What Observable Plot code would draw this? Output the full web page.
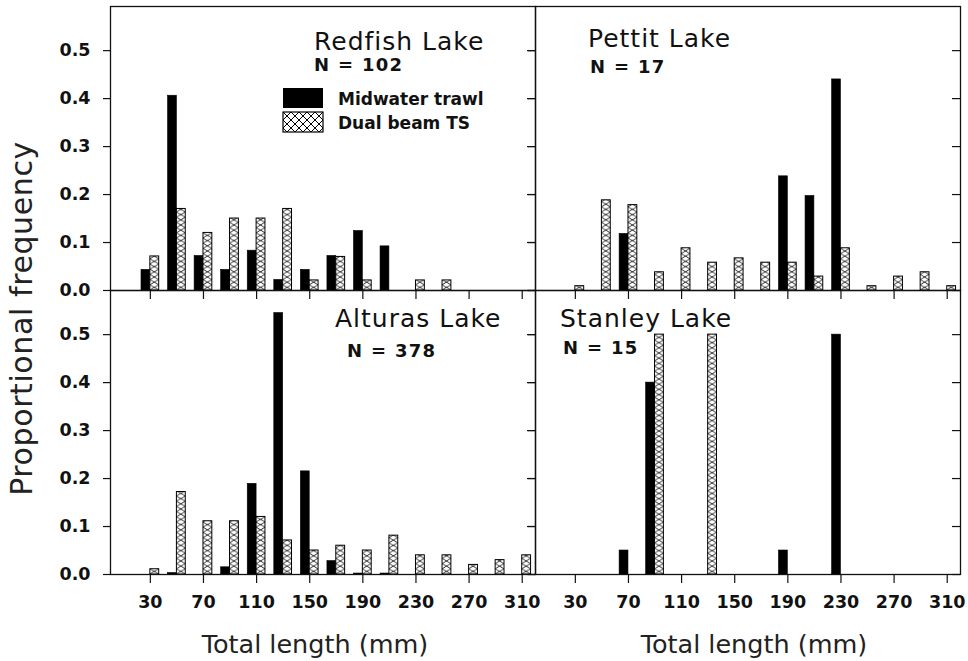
<!DOCTYPE html>
<html><head><meta charset="utf-8">
<script src="https://cdn.jsdelivr.net/npm/d3@7"></script>
<script src="https://cdn.jsdelivr.net/npm/@observablehq/plot@0.6"></script>
<style>
html,body{margin:0;padding:0;background:#fff;}
#chart{position:relative;width:968px;height:661px;overflow:hidden;font-family:"DejaVu Sans",sans-serif;}
#chart svg{position:absolute;}
</style></head><body><div id="chart"></div>
<script>
// ---- data ----
const lengthBins = [30, 50, 70, 90, 110, 130, 150, 170, 190, 210, 230, 250, 270, 290, 310];
const xTickValues = [30, 70, 110, 150, 190, 230, 270, 310];
const yTickValues = [0, 0.1, 0.2, 0.3, 0.4, 0.5];
const lakes = ["Redfish Lake", "Pettit Lake", "Alturas Lake", "Stanley Lake"];
const sampleSizes = [102, 17, 378, 15];
const seriesNames = ["Midwater trawl", "Dual beam TS"];
const axisTitleX = "Total length (mm)";
const axisTitleY = "Proportional frequency";

const redfishTrawl = [0.043, 0.406, 0.072, 0.043, 0.083, 0.022, 0.043, 0.072, 0.124, 0.092, 0, 0, 0, 0, 0];
const redfishTS    = [0.071, 0.170, 0.120, 0.150, 0.150, 0.170, 0.021, 0.070, 0.021, 0, 0.021, 0.021, 0, 0, 0];
const pettitTrawl  = [0, 0, 0.118, 0, 0, 0, 0, 0, 0.238, 0.197, 0.440, 0, 0, 0, 0];
const pettitTS     = [0.009, 0.188, 0.178, 0.038, 0.088, 0.058, 0.067, 0.058, 0.058, 0.029, 0.088, 0.009, 0.029, 0.038, 0.009];
const alturasTrawl = [0, 0.003, 0, 0.015, 0.189, 0.545, 0.215, 0.028, 0.002, 0.002, 0, 0, 0, 0, 0];
const alturasTS    = [0.011, 0.172, 0.111, 0.111, 0.120, 0.071, 0.050, 0.060, 0.050, 0.081, 0.040, 0.040, 0.020, 0.030, 0.040];
const stanleyTrawl = [0, 0, 0.05, 0.40, 0, 0, 0, 0, 0.05, 0, 0.50, 0, 0, 0, 0];
const stanleyTS    = [0, 0, 0, 0.50, 0, 0.50, 0, 0, 0, 0, 0, 0, 0, 0, 0];

const trawlSeries = [redfishTrawl, pettitTrawl, alturasTrawl, stanleyTrawl];
const tsSeries = [redfishTS, pettitTS, alturasTS, stanleyTS];

// ---- layout (positions / styles) ----
const xMax = 320;
const barW = 20 / 3; // mm, each bar a third of a 20 mm bin
const layout = [
  {left: 0,   top: 0,   w: 540, h: 300, ml: 110, mr: 5,  mt: 6,  mb: 10, yLab: true,  xLab: false, title: [314, 50],  n: [314, 71]},
  {left: 530, top: 0,   w: 440, h: 300, ml: 5,   mr: 10, mt: 6,  mb: 10, yLab: false, xLab: false, title: [588, 47],  n: [590, 72.5]},
  {left: 0,   top: 280, w: 540, h: 344, ml: 110, mr: 5,  mt: 10, mb: 50, yLab: true,  xLab: true,  title: [335, 327], n: [347, 356.5]},
  {left: 530, top: 280, w: 440, h: 344, ml: 5,   mr: 10, mt: 10, mb: 50, yLab: false, xLab: true,  title: [560, 326.5], n: [563, 354]}
];
const FONT = '"DejaVu Sans", sans-serif';

const root = document.getElementById("chart");

layout.forEach((L, i) => {
  const trawl = lengthBins.map((len, j) => ({len, value: trawlSeries[i][j]})).filter(d => d.value > 0);
  const ts = lengthBins.map((len, j) => ({len, value: tsSeries[i][j]})).filter(d => d.value > 0);
  const pid = "hatch-" + i;
  const frameW = L.w - L.ml - L.mr;
  const tickLenData = 8 * xMax / frameW; // 8 px expressed in mm
  const chart = Plot.plot({
    width: L.w, height: L.h,
    marginLeft: L.ml, marginRight: L.mr, marginTop: L.mt, marginBottom: L.mb,
    style: {background: "none", overflow: "visible", fontFamily: FONT, fontSize: "17.5px", fontWeight: "bold", color: "#111"},
    x: {domain: [0, xMax], axis: null},
    y: {domain: [0, 0.592], axis: null},
    marks: [
      Plot.rect(trawl, {x1: d => d.len - barW, x2: "len", y1: () => 0, y2: "value", fill: "black", stroke: "black", strokeWidth: 0.6}),
      Plot.rect(ts, {x1: "len", x2: d => d.len + barW, y1: () => 0, y2: "value", fill: `url(#${pid})`, stroke: "black", strokeWidth: 1}),
      Plot.frame({stroke: "#111", strokeWidth: 1.3}),
      Plot.axisY(yTickValues, {anchor: "left", tickSize: 7, tickPadding: 13, label: null,
        tickFormat: L.yLab ? d3.format(".1f") : () => "", strokeWidth: 1.2}),
      // inward ticks along the right edge of each panel
      Plot.ruleY(yTickValues, {y: d => d, x1: () => xMax - tickLenData, x2: () => xMax, stroke: "#111", strokeWidth: 1.2}),
      Plot.axisX(xTickValues, {anchor: "bottom", tickSize: 9, tickPadding: 12.5, label: null,
        tickFormat: L.xLab ? d => String(d) : () => "", strokeWidth: 1.2})
    ]
  });
  chart.style.left = L.left + "px";
  chart.style.top = L.top + "px";
  const xs = chart.scale("x"), ys = chart.scale("y");
  const pw = xs.apply(barW) - xs.apply(0);
  const ph = 5.2;
  const svg = d3.select(chart);
  const pat = svg.insert("defs", ":first-child").append("pattern")
    .attr("id", pid).attr("patternUnits", "userSpaceOnUse")
    .attr("x", xs.apply(lengthBins[0])).attr("y", ys.apply(0))
    .attr("width", pw).attr("height", ph);
  pat.append("rect").attr("width", pw).attr("height", ph).attr("fill", "white");
  pat.append("path").attr("d", `M0,0L${pw},${ph}M0,${ph}L${pw},0`)
    .attr("stroke", "black").attr("stroke-width", 0.8).attr("fill", "none");
  root.appendChild(chart);
});

// ---- overlay: titles, sample sizes, legend, axis titles ----
const ov = d3.create("svg").attr("width", 968).attr("height", 661)
  .style("left", "0px").style("top", "0px").style("pointer-events", "none")
  .attr("font-family", FONT);
const lp = ov.append("defs").append("pattern").attr("id", "hatch-legend")
  .attr("patternUnits", "userSpaceOnUse").attr("x", 283).attr("y", 112).attr("width", 8).attr("height", 8);
lp.append("rect").attr("width", 8).attr("height", 8).attr("fill", "white");
lp.append("path").attr("d", "M0,0L8,8M0,8L8,0").attr("stroke", "black").attr("stroke-width", 1).attr("fill", "none");

layout.forEach((L, i) => {
  ov.append("text").attr("x", L.title[0]).attr("y", L.title[1])
    .attr("font-size", 25).attr("letter-spacing", 1).attr("fill", "#111").text(lakes[i]);
  ov.append("text").attr("x", L.n[0]).attr("y", L.n[1])
    .attr("font-size", 18).attr("font-weight", "bold").attr("letter-spacing", 1.3).attr("fill", "#111")
    .text("N = " + sampleSizes[i]);
});

// legend (inside Redfish Lake panel)
ov.append("rect").attr("x", 283).attr("y", 88).attr("width", 40).attr("height", 20).attr("fill", "black");
ov.append("rect").attr("x", 283).attr("y", 112).attr("width", 40).attr("height", 20)
  .attr("fill", "url(#hatch-legend)").attr("stroke", "black").attr("stroke-width", 1.2);
ov.append("text").attr("x", 338).attr("y", 105).attr("font-size", 17).attr("font-weight", "bold").attr("fill", "#111").text(seriesNames[0]);
ov.append("text").attr("x", 338).attr("y", 129).attr("font-size", 17).attr("font-weight", "bold").attr("fill", "#111").text(seriesNames[1]);

// axis titles
ov.append("text").attr("transform", "translate(32,318.5) rotate(-90)").attr("text-anchor", "middle")
  .attr("font-size", 30).attr("letter-spacing", 0.6).attr("fill", "#222").text(axisTitleY);
[315, 754].forEach(cx => {
  ov.append("text").attr("x", cx).attr("y", 653).attr("text-anchor", "middle")
    .attr("font-size", 25.5).attr("fill", "#222").text(axisTitleX);
});
root.appendChild(ov.node());
</script>
</body></html>
